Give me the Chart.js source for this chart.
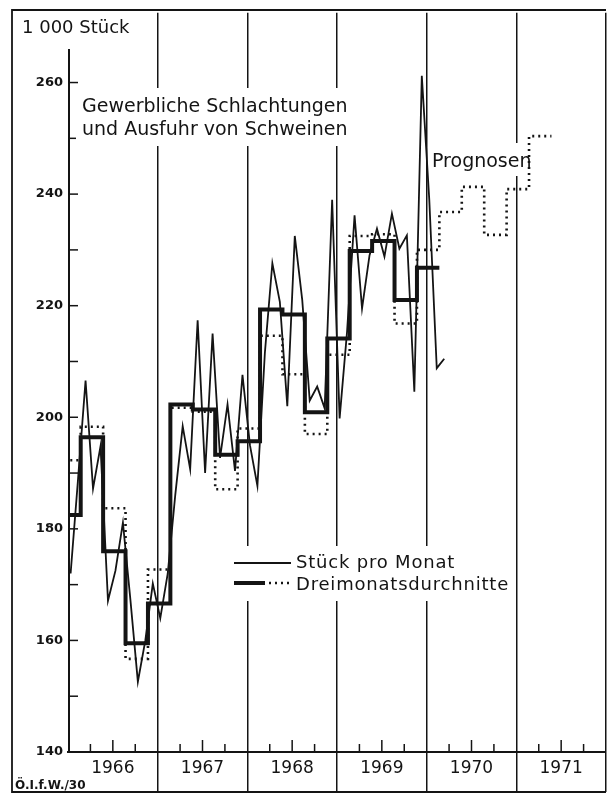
<!DOCTYPE html>
<html>
<head>
<meta charset="utf-8">
<script src="https://cdn.jsdelivr.net/npm/chart.js@4.4.1/dist/chart.umd.min.js"></script>
<style>
  html, body { margin: 0; padding: 0; background: #fff; }
</style>
</head>
<body>
<canvas id="chart" width="610" height="795"></canvas>
<script>
const yearLabels = ['1966', '1967', '1968', '1969', '1970', '1971'];
const yTickValues = [140, 160, 180, 200, 220, 240, 260];

// Stück pro Monat (1000), Jan 1966 .. Mar 1970
const monthly = [
  172, 189, 206.6, 187.2, 194.8, 167.1, 172.5, 181.1, 167.3, 152.6, 160, 170.2,
  164, 172, 186, 198.4, 190.7, 217.4, 190, 215, 192.7, 202.3, 190.4, 207.6,
  195, 187.7, 211.6, 227.6, 220.7, 202, 232.5, 221, 203, 205.5, 201.6, 239,
  199.8, 215.4, 236.2, 219.5, 229, 233.8, 228.8, 236.5, 230.2, 232.6, 204.6, 261.2,
  239, 208.8, 210.5
];

// Dreimonatsdurchschnitte (thick), one per quarter, first one starts before 1966
const quarterActual = [
  182.5, 196.4, 176, 159.5, 166.6, 202.3, 201.4, 193.3, 195.7,
  219.3, 218.4, 200.9, 214.1, 229.8, 231.6, 221, 226.8
];

// Dreimonatsdurchschnitte, dotted, incl. Prognosen up to 1971
const quarterForecast = [
  192.3, 198.3, 183.7, 156.7, 172.7, 201.7, 201, 187.1, 198, 214.6, 207.7,
  197, 211.2, 232.5, 232.8, 216.8, 230, 236.8, 241.3, 232.7, 240.9, 250.4
];

const monthPos = 0.35;     // where a month's point sits inside the month
const firstQuarter = -1.3; // start of the first quarter step, in months

function steps(vals) {
  let pts = vals.map((v, i) => ({ x: firstQuarter + 3 * i, y: v }));
  pts.push({ x: firstQuarter + 3 * vals.length, y: vals[vals.length - 1] });
  return pts;
}

const ink = '#141414';
const font = '"DejaVu Sans", sans-serif';

const decor = {
  id: 'decor',
  beforeDatasetsDraw(chart) {
    const { ctx, chartArea: a, scales: { x, y } } = chart;
    ctx.save();
    ctx.strokeStyle = ink;
    ctx.lineCap = 'butt';

    // y axis line
    ctx.lineWidth = 2;
    ctx.beginPath();
    ctx.moveTo(a.left + 1, y.getPixelForValue(266));
    ctx.lineTo(a.left + 1, y.getPixelForValue(140));
    ctx.stroke();

    // small ticks on y axis, pointing inwards
    ctx.lineWidth = 1.5;
    for (let v = 150; v <= 260; v += 10) {
      let py = y.getPixelForValue(v);
      ctx.beginPath();
      ctx.moveTo(a.left, py);
      ctx.lineTo(a.left + 10, py);
      ctx.stroke();
    }

    // quarter ticks on x axis, pointing up
    for (let yr = 0; yr < yearLabels.length; yr++) {
      for (let q of [3, 6, 9]) {
        let px = x.getPixelForValue(yr * 12 + q);
        let h = q === 6 ? 12 : 8;
        ctx.beginPath();
        ctx.moveTo(px, a.bottom);
        ctx.lineTo(px, a.bottom - h);
        ctx.stroke();
      }
    }

    // white boxes behind the texts
    ctx.fillStyle = '#fff';
    ctx.fillRect(76, 88, 282, 58);
    ctx.fillRect(428, 143, 104, 33);
    ctx.fillRect(228, 546, 288, 55);
    ctx.restore();
  },
  afterDraw(chart) {
    const { ctx } = chart;
    ctx.save();
    ctx.strokeStyle = ink;
    ctx.fillStyle = ink;

    // frame
    ctx.lineWidth = 1.8;
    ctx.beginPath();
    ctx.moveTo(606, 10);
    ctx.lineTo(12, 10);
    ctx.lineTo(12, 792);
    ctx.lineTo(606, 792);
    ctx.stroke();

    ctx.textBaseline = 'alphabetic';
    ctx.textAlign = 'left';
    ctx.font = '18px ' + font;
    ctx.fillText('1 000 Stück', 22, 33);

    ctx.font = '19px ' + font;
    ctx.fillText('Gewerbliche Schlachtungen', 82, 112);
    ctx.fillText('und Ausfuhr von Schweinen', 82, 135);
    ctx.fillText('Prognosen', 432, 167);

    // legend
    ctx.font = '18px ' + font;
    ctx.letterSpacing = '0.8px';
    ctx.fillText('Stück pro Monat', 296, 568);
    ctx.fillText('Dreimonatsdurchnitte', 296, 590);
    ctx.letterSpacing = '0px';

    ctx.lineWidth = 1.8;
    ctx.beginPath();
    ctx.moveTo(234, 563);
    ctx.lineTo(291, 563);
    ctx.stroke();
    ctx.lineWidth = 4;
    ctx.beginPath();
    ctx.moveTo(234, 583);
    ctx.lineTo(265, 583);
    ctx.stroke();
    ctx.lineWidth = 2.6;
    ctx.setLineDash([2, 4]);
    ctx.beginPath();
    ctx.moveTo(269, 583);
    ctx.lineTo(293, 583);
    ctx.stroke();
    ctx.setLineDash([]);

    ctx.font = 'bold 12px ' + font;
    ctx.fillText('Ö.I.f.W./30', 15, 789);
    ctx.restore();
  }
};

new Chart(document.getElementById('chart'), {
  type: 'line',
  data: {
    datasets: [
      {
        label: 'Stück pro Monat',
        data: monthly.map((v, i) => ({ x: i + monthPos, y: v })),
        borderColor: ink,
        borderWidth: 1.8,
        pointRadius: 0,
        tension: 0
      },
      {
        label: 'Dreimonatsdurchnitte',
        data: steps(quarterActual),
        stepped: true,
        borderColor: ink,
        borderWidth: 4,
        pointRadius: 0
      },
      {
        label: 'Prognosen',
        data: steps(quarterForecast),
        stepped: true,
        borderColor: ink,
        borderWidth: 2.6,
        borderDash: [2, 4],
        pointRadius: 0
      }
    ]
  },
  options: {
    responsive: false,
    animation: false,
    devicePixelRatio: 1,
    layout: { padding: { left: 0, right: 4, top: 10, bottom: 0 } },
    plugins: {
      legend: { display: false },
      tooltip: { enabled: false }
    },
    scales: {
      x: {
        type: 'linear',
        min: 0,
        max: 72,
        afterBuildTicks: (scale) => {
          let t = [];
          for (let v = 0; v <= 72; v += 6) t.push({ value: v });
          scale.ticks = t;
        },
        afterFit: (scale) => { scale.height = 43; },
        ticks: {
          autoSkip: false,
          maxRotation: 0,
          padding: -34,
          color: ink,
          font: { family: font, size: 17 },
          callback: (v) => (v % 12 === 6 ? yearLabels[(v - 6) / 12] : '')
        },
        grid: {
          drawTicks: true,
          tickLength: 40,
          lineWidth: 1.5,
          color: (c) => (c.tick && c.tick.value % 12 === 0 && c.tick.value > 0 ? ink : 'rgba(0,0,0,0)')
        },
        border: { display: true, color: ink, width: 2 }
      },
      y: {
        min: 140,
        max: 272.5,
        afterBuildTicks: (scale) => {
          scale.ticks = yTickValues.map((v) => ({ value: v }));
        },
        afterFit: (scale) => { scale.width = 68; },
        ticks: {
          padding: 5,
          color: ink,
          font: { family: font, size: 13, weight: 'bold' }
        },
        grid: { display: false, drawTicks: false },
        border: { display: false }
      }
    }
  },
  plugins: [decor]
});
</script>
</body>
</html>
